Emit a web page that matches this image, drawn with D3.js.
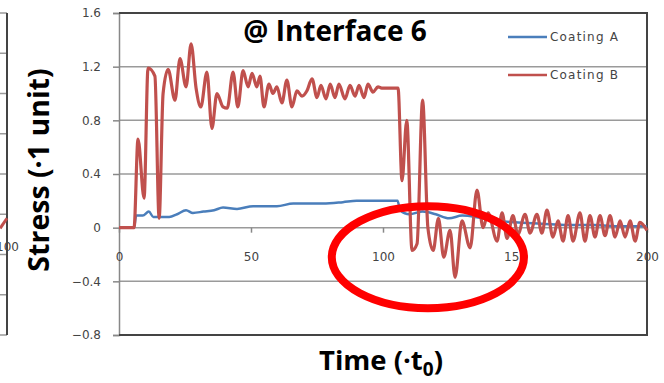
<!DOCTYPE html>
<html lang="en">
<head>
<meta charset="utf-8">
<title>Interface 6</title>
<script src="https://d3js.org/d3.v7.min.js" charset="utf-8"></script>
<style>
body { margin: 0; background: #fff; }
.tick text { font-family: "DejaVu Sans", sans-serif; font-size: 12px; fill: #444; }
.title { font-family: "Open Sans", sans-serif; font-weight: bold; fill: #000; }
.legend { font-family: "DejaVu Sans", sans-serif; font-size: 12px; fill: #444; letter-spacing: 1.2px; }
</style>
</head>
<body>
<div id="vis-container"></div>
<script>
// data (time in t0, stress in units)
var timeA = [0, 5.7, 6.5, 9, 11.3, 13, 16, 19, 22, 25.4, 28, 32, 36, 39.4, 44.7, 50.8, 55, 59.8, 66, 72, 77.3, 84.8, 90, 95, 100, 105.5, 106.5, 110, 115, 120, 125, 130, 135, 140, 150, 160, 170, 180, 190, 200];
var coatingA = [0, 0, 0.09, 0.09, 0.12, 0.08, 0.08, 0.08, 0.1, 0.13, 0.11, 0.12, 0.13, 0.15, 0.14, 0.16, 0.16, 0.16, 0.18, 0.18, 0.18, 0.19, 0.2, 0.2, 0.2, 0.2, 0.13, 0.1, 0.12, 0.1, 0.07, 0.09, 0.08, 0.06, 0.04, 0.03, 0.02, 0.02, 0.01, 0.01];

var timeB = [0, 5.7, 7.2, 9.5, 11, 13.6, 15.2, 16.7, 18.6, 21.2, 23.1, 25.4, 27.3, 29.2, 31, 33.3, 35.2, 37.1, 39.4, 41, 43.2, 45, 47, 48.9, 50.4, 52.2, 53.4, 54.9, 56.8, 58.3, 59.8, 61.7, 63.6, 65.5, 67.4, 69.3, 71.2, 73.1, 75, 76.5, 78.4, 80, 81.8, 83.3, 85.6, 87.5, 89.4, 90.9, 92.8, 94.3, 96.2, 98.1, 99.5, 105.7, 107.2, 109, 111, 112.9, 115, 117, 119, 121, 123, 125.4, 127.3, 129.9, 133, 135.6, 137.9, 139.8, 143.2, 145.1, 147, 149.2, 151.1, 153.8, 155.7, 158.3, 160.2, 162.1, 164.4, 166.3, 168.2, 170.1, 172, 174.6, 176.5, 178.4, 180.3, 182.2, 184.1, 186, 187.9, 189.8, 191.7, 193.6, 195.5, 197.3, 200];
var coatingB = [0, 0, 0.66, 0.22, 1.19, 1.13, 0.07, 1.0, 1.18, 0.95, 1.26, 1.05, 1.37, 1.04, 0.9, 1.16, 0.74, 1.0, 0.9, 0.89, 1.16, 0.9, 1.17, 1.05, 1.15, 1.05, 1.13, 0.9, 1.07, 1.0, 1.05, 0.93, 1.1, 0.9, 1.02, 0.98, 1.02, 1.11, 0.97, 1.06, 0.96, 1.07, 0.97, 1.07, 0.96, 1.06, 0.98, 1.06, 0.97, 1.07, 1.01, 1.05, 1.04, 1.04, 0.35, 0.8, -0.17, -0.12, 0.95, 0.0, -0.17, 0.07, -0.22, -0.02, -0.37, 0.05, -0.15, 0.28, 0, 0.11, -0.1, 0.11, -0.08, 0.09, -0.05, 0.1, -0.04, 0.1, -0.04, 0.13, -0.07, 0.05, -0.1, 0.09, -0.1, 0.11, -0.1, 0.09, -0.07, 0.09, -0.06, 0.09, -0.07, 0.05, -0.07, 0.05, -0.1, 0.04, -0.02];

var xTicks = [0, 50, 100, 150, 200];
var yTicks = [-0.8, -0.4, 0, 0.4, 0.8, 1.2, 1.6];
var seriesNames = ["Coating A", "Coating B"];

// fragment of the neighbouring panel on the left
var prevYTicks = [-0.6, -0.4, -0.2, 0, 0.2, 0.4, 0.6, 0.8, 1.0];
var prevTime = [98.7, 100];
var prevB = [-0.07, -0.02];

// red ring drawn over the chart: centre (t, stress) and radii
var ring = { t: 117, v: -0.22, rt: 36.4, rv: 0.38 };

var W = 664, H = 383;
var plotL = 119, plotR = 647, plotT = 13, plotB = 335;

var svg = d3.select("#vis-container").append("svg")
    .attr("width", W)
    .attr("height", H);

var x = d3.scaleLinear().domain([0, 200]).range([plotL, plotR]);
var y = d3.scaleLinear().domain([-0.8, 1.6]).range([plotB, plotT]);

// gridlines
svg.append("g").selectAll("line")
    .data(yTicks)
    .enter().append("line")
    .attr("x1", plotL).attr("x2", plotR)
    .attr("y1", function(d) { return y(d); })
    .attr("y2", function(d) { return y(d); })
    .attr("stroke", "#9a9a9a")
    .attr("stroke-width", 1.5);

// y axis
var yAxis = svg.append("g")
    .attr("transform", "translate(" + plotL + ",0)")
    .call(d3.axisLeft(y).tickValues(yTicks).tickSize(6).tickPadding(12)
        .tickFormat(function(d) { return d === 0 ? "0" : d3.format(".1f")(d); }));
yAxis.select(".domain").attr("stroke", "#888").attr("stroke-width", 1.5);
yAxis.selectAll(".tick line").attr("stroke", "#888").attr("stroke-width", 1.5);

// x axis sits on zero
var xAxis = svg.append("g")
    .attr("transform", "translate(0," + y(0) + ")")
    .call(d3.axisBottom(x).tickValues(xTicks).tickSize(5).tickPadding(20));
xAxis.select(".domain").remove();
xAxis.selectAll(".tick line").attr("stroke", "#888").attr("stroke-width", 1.5);

// plot area border (top, right, bottom)
svg.append("path")
    .attr("d", "M" + plotL + "," + plotT + "H" + plotR + "V" + plotB + "H" + plotL)
    .attr("fill", "none")
    .attr("stroke", "#444")
    .attr("stroke-width", 2);

var line = d3.line()
    .x(function(d) { return x(d[0]); })
    .y(function(d) { return y(d[1]); })
    .curve(d3.curveMonotoneX);

svg.append("path")
    .datum(d3.zip(timeA, coatingA))
    .attr("d", line)
    .attr("fill", "none")
    .attr("stroke", "#4a7ebb")
    .attr("stroke-width", 2.5);

svg.append("path")
    .datum(d3.zip(timeB, coatingB))
    .attr("d", line)
    .attr("fill", "none")
    .attr("stroke", "#c0504d")
    .attr("stroke-width", 3.2);

// left neighbour fragment
var px = d3.scaleLinear().domain([0, 100]).range([7 - 528, 7]);
var py = d3.scaleLinear().domain([-0.6, 1.0]).range([plotB, plotT]);
var prev = svg.append("g");
prev.selectAll("line")
    .data(prevYTicks)
    .enter().append("line")
    .attr("x1", 0).attr("x2", px(100))
    .attr("y1", function(d) { return py(d); })
    .attr("y2", function(d) { return py(d); })
    .attr("stroke", "#9a9a9a")
    .attr("stroke-width", 1.5);
prev.append("line")
    .attr("x1", px(100)).attr("x2", px(100))
    .attr("y1", plotT).attr("y2", plotB)
    .attr("stroke", "#444").attr("stroke-width", 2);
prev.append("path")
    .datum(d3.zip(prevTime, prevB))
    .attr("d", d3.line().x(function(d) { return px(d[0]); }).y(function(d) { return py(d[1]); }))
    .attr("fill", "none")
    .attr("stroke", "#c0504d")
    .attr("stroke-width", 3);
prev.append("g")
    .attr("transform", "translate(0," + py(0) + ")")
    .call(d3.axisBottom(px).tickValues([100]).tickSize(0).tickPadding(28))
    .select(".domain").remove();

// legend
var legend = svg.append("g");
var legendColors = ["#4a7ebb", "#c0504d"];
seriesNames.forEach(function(name, i) {
    var ly = 37 + i * 38;
    legend.append("line")
        .attr("x1", 508).attr("x2", 547)
        .attr("y1", ly).attr("y2", ly)
        .attr("stroke", legendColors[i])
        .attr("stroke-width", 2.5);
    legend.append("text")
        .attr("class", "legend")
        .attr("x", 550).attr("y", ly + 4)
        .text(name);
});

// titles
svg.append("text")
    .attr("class", "title")
    .attr("x", 335).attr("y", 41)
    .attr("text-anchor", "middle")
    .style("font-size", "28px")
    .text("@ Interface 6");

var xt = svg.append("text")
    .attr("class", "title")
    .attr("x", 381).attr("y", 370)
    .attr("text-anchor", "middle")
    .style("font-size", "27.5px");
xt.append("tspan").text("Time (\u00b7t");
xt.append("tspan").attr("dy", 6).style("font-size", "19px").text("0");
xt.append("tspan").attr("dy", -6).text(")");

svg.append("text")
    .attr("class", "title")
    .attr("transform", "translate(49,170) rotate(-90)")
    .attr("text-anchor", "middle")
    .style("font-size", "28.5px")
    .text("Stress (\u00b71 unit)");

// annotation ring
svg.append("ellipse")
    .attr("cx", x(ring.t))
    .attr("cy", y(ring.v))
    .attr("rx", x(ring.rt) - x(0))
    .attr("ry", y(0) - y(ring.rv))
    .attr("fill", "none")
    .attr("stroke", "#ff0000")
    .attr("stroke-width", 8);
</script>
</body>
</html>
